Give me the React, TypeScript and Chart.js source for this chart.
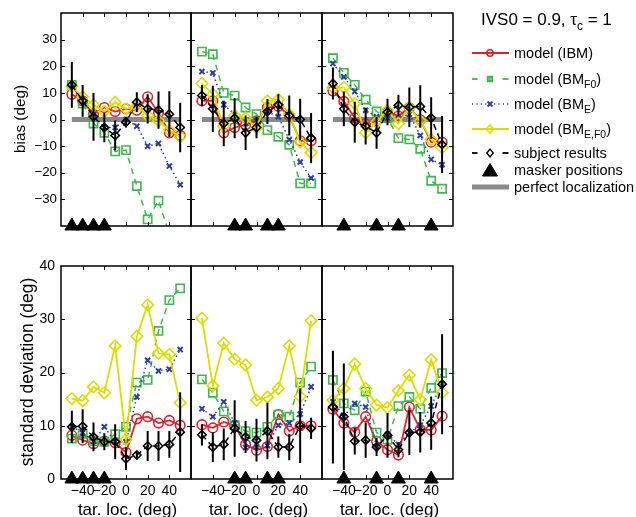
import React, { useEffect, useRef } from 'react';
import { Chart, registerables } from 'chart.js';
Chart.register(...registerables);

// ---------- data ----------
const targetLocs = [-50, -40, -30, -20, -10, 0, 10, 20, 30, 40, 50];
const xTickVals = [-40, -20, 0, 20, 40];
const biasTickVals = [-30, -20, -10, 0, 10, 20, 30];
const sdTickVals = [0, 10, 20, 30, 40];

const maskers1 = [-50, -40, -30, -20];
const maskers2 = [-20, -10, 10, 20];
const maskers3 = [-40, -10, 10, 40];

// bias (top row)
const ibmBias1 = [9.5, 7, 2, 4.5, 3, 4, 3.5, 8.5, 2.5, -5, -6];
const bmF0Bias1 = [13, 6, -1.5, -5, -12, -11.5, -25, -37.5, -30.5, -43, -55];
const bmEBias1 = [13, 7, 2, -3, -3, 0, -2.5, -10, -9, -17.5, -24.5];
const bmEF0Bias1 = [12.5, 8.5, 5.5, 3, 6.5, 4, 5, 1.5, -0.5, -4, -6.5];
const subjBias1 = [13, 7, 1, -3, -6, -1, 6.5, 4, 3.5, 2, -3];
const subjBiasErr1 = [8.6, 6, 9, 5.5, 5.6, 2, 3.7, 5.5, 7, 8.6, 9.3];

const ibmBias2 = [7, 7, -5, -3, -2, -0.5, 4.5, 5, 1.5, -8, -8];
const bmF0Bias2 = [25.5, 24.5, 10, 9, 4.5, 2, -4, -6.5, -9.5, -24, -24];
const bmEBias2 = [18, 17.5, 5.5, 2, -1.5, -0.5, 3, 1, -7.5, -16, -22];
const bmEF0Bias2 = [13.5, 9.5, -2.5, 1.5, 0.5, -3, 7, 7.5, 2, -8.5, -12.5];
const subjBias2 = [9, 4, -1.5, 0.5, -5, -3, 3, 5.5, 1.5, 0, -7];
const subjBiasErr2 = [4, 8.7, 8.5, 7.5, 6.5, 4, 4.7, 4, 7.5, 7.8, 9.4];

const ibmBias3 = [10.7, 6.8, 0.6, -1.6, -0.6, 2.8, 1.3, 4.4, -0.1, -8.5, -8.5];
const bmF0Bias3 = [23, 17.5, 13, 7.5, 3, 0.5, -7, -7.5, -11, -23, -26];
const bmEBias3 = [21, 16, 10.5, 3.5, 1, 0.5, 0.5, 2, -6, -15, -17];
const bmEF0Bias3 = [12, 12, 6, -5, -1, 3.5, -1.5, 4.5, -0.5, -7.5, -10.5];
const subjBias3 = [13.5, 4, -1, -2.5, -5, 2.8, 5.3, 4.6, 4.9, 0.6, -9.4];
const subjBiasErr3 = [6, 6.5, 7.7, 6.9, 6, 5, 4, 7.4, 8, 7.8, 10.7];

// standard deviation (bottom row)
const ibmSd1 = [8.2, 7.3, 6.6, 7.1, 6.8, 5, 11.3, 11.7, 10.5, 11, 10.1];
const bmF0Sd1 = [7.6, 8.5, 7.1, 7, 8.4, 9.8, 18.1, 18.6, 27.8, 33.6, 35.8];
const bmESd1 = [9.8, 8.7, 7.1, 9.8, 7, 7, 15.4, 22.3, 20.3, 20.6, 24.3];
const bmEF0Sd1 = [15.1, 14.7, 17.3, 16.2, 25, 7.4, 26.8, 32.7, 23.6, 23.4, 14.3];
const subjSd1 = [9.8, 9.9, 7.9, 7, 7, 3.8, 4.5, 6.2, 6.2, 6.5, 8.8];
const subjSdErr1 = [3, 3.2, 2.7, 1.6, 3.3, 2.1, 0.6, 2.8, 2.8, 2.5, 7.5];

const ibmSd2 = [10.2, 9.6, 10.7, 10, 6.5, 5.4, 6.1, 12.1, 9, 10, 10];
const bmF0Sd2 = [18.7, 16.2, 12.7, 10.1, 9, 8.7, 9.8, 12.1, 11.7, 18.1, 21.1];
const bmESd2 = [13.2, 11.7, 14.5, 10.5, 5.9, 6, 6.3, 10.1, 10.5, 12.2, 17.3];
const bmEF0Sd2 = [30.2, 17.5, 25.5, 22.5, 21.4, 14.8, 15.4, 17, 25, 15.5, 29.7];
const subjSd2 = [8.3, 6, 6.5, 9.5, 7.9, 7.3, 9, 6, 6, 10, 9.5];
const subjSdErr2 = [2, 2.8, 3, 5.3, 3, 4, 5.3, 2, 2.5, 7, 2];

const ibmSd3 = [13.1, 10.5, 8.8, 11.7, 7.1, 5.5, 4.5, 13.5, 9.3, 9.2, 11.8];
const bmF0Sd3 = [18.6, 14.2, 12.9, 16.4, 8.7, 7.4, 13.7, 15.4, 13.2, 17.1, 19.9];
const bmESd3 = [14.5, 11.8, 14.2, 13.5, 6.1, 8.4, 6.5, 8.7, 10.1, 13.7, 17.9];
const bmEF0Sd3 = [14.8, 17, 21.6, 17, 13.9, 13.4, 16.6, 19.5, 14.9, 22.4, 16.2];
const subjSd3 = [13.5, 11.7, 7.1, 7.3, 6, 8.2, 5.5, 8.7, 8.8, 10.5, 17.8];
const subjSdErr3 = [10.6, 10, 2.5, 3.3, 1.7, 4.2, 1.4, 4.2, 3.8, 5, 9.4];

// ---------- styles ----------
const FONT = "'Liberation Sans', Arial, Helvetica, sans-serif";
const RED = '#e3202a';
const GREEN = '#3db84a';
const BLUE = '#2b3d9e';
const YELLOW = '#dcdc00';
const BLACK = '#000000';
const GREY = '#8a8a8a';
const NONE = 'rgba(0,0,0,0)';

type Panel = {
  left: number; right: number; top: number; bottom: number;
  ymin: number; ymax: number; yLabels: number[]; yInner: number[];
  showX: boolean; showY: boolean; bias: boolean;
  ibm: number[]; f0: number[]; e: number[]; ef0: number[]; subj: number[]; err: number[]; maskers: number[];
};

const colX = [[61, 191], [191, 322], [322, 453]];
const rowTop = { top: 13, bottom: 226 };
const rowBot = { top: 266, bottom: 479 };
const Y_AXIS_W = 40;
const X_AXIS_H = 26;

const panels: Panel[] = [
  { ...rowTop, left: colX[0][0], right: colX[0][1], ymin: -40, ymax: 40, yLabels: biasTickVals, yInner: biasTickVals, showX: false, showY: true, bias: true, ibm: ibmBias1, f0: bmF0Bias1, e: bmEBias1, ef0: bmEF0Bias1, subj: subjBias1, err: subjBiasErr1, maskers: maskers1 },
  { ...rowTop, left: colX[1][0], right: colX[1][1], ymin: -40, ymax: 40, yLabels: biasTickVals, yInner: biasTickVals, showX: false, showY: false, bias: true, ibm: ibmBias2, f0: bmF0Bias2, e: bmEBias2, ef0: bmEF0Bias2, subj: subjBias2, err: subjBiasErr2, maskers: maskers2 },
  { ...rowTop, left: colX[2][0], right: colX[2][1], ymin: -40, ymax: 40, yLabels: biasTickVals, yInner: biasTickVals, showX: false, showY: false, bias: true, ibm: ibmBias3, f0: bmF0Bias3, e: bmEBias3, ef0: bmEF0Bias3, subj: subjBias3, err: subjBiasErr3, maskers: maskers3 },
  { ...rowBot, left: colX[0][0], right: colX[0][1], ymin: 0, ymax: 40, yLabels: sdTickVals, yInner: [10, 20, 30], showX: true, showY: true, bias: false, ibm: ibmSd1, f0: bmF0Sd1, e: bmESd1, ef0: bmEF0Sd1, subj: subjSd1, err: subjSdErr1, maskers: maskers1 },
  { ...rowBot, left: colX[1][0], right: colX[1][1], ymin: 0, ymax: 40, yLabels: sdTickVals, yInner: [10, 20, 30], showX: true, showY: false, bias: false, ibm: ibmSd2, f0: bmF0Sd2, e: bmESd2, ef0: bmEF0Sd2, subj: subjSd2, err: subjSdErr2, maskers: maskers2 },
  { ...rowBot, left: colX[2][0], right: colX[2][1], ymin: 0, ymax: 40, yLabels: sdTickVals, yInner: [10, 20, 30], showX: true, showY: false, bias: false, ibm: ibmSd3, f0: bmF0Sd3, e: bmESd3, ef0: bmEF0Sd3, subj: subjSd3, err: subjSdErr3, maskers: maskers3 },
];

const fmt = (v: number | string) => String(v).replace('-', '\u2212');
const pts = (vals: number[]) => targetLocs.map((x, i) => ({ x, y: vals[i] }));

function framePlugin(p: Panel) {
  return {
    id: 'frame',
    afterDraw(chart: any) {
      const { ctx, chartArea: a, scales } = chart;
      const x = scales.x, y = scales.y;
      ctx.save();
      ctx.strokeStyle = '#000';
      ctx.lineWidth = 1;
      const tl = 4;
      ctx.beginPath();
      for (const v of xTickVals) {
        const px = Math.round(x.getPixelForValue(v)) + 0.5;
        ctx.moveTo(px, a.bottom); ctx.lineTo(px, a.bottom - tl);
        ctx.moveTo(px, a.top); ctx.lineTo(px, a.top + tl);
      }
      for (const v of p.yInner) {
        const py = Math.round(y.getPixelForValue(v)) + 0.5;
        ctx.moveTo(a.left, py); ctx.lineTo(a.left + tl, py);
        ctx.moveTo(a.right, py); ctx.lineTo(a.right - tl, py);
      }
      ctx.stroke();
      ctx.lineWidth = 1.5;
      ctx.strokeRect(a.left, a.top, a.right - a.left, a.bottom - a.top);
      ctx.restore();
    },
  };
}

function errPlugin(p: Panel, dsIndex: number) {
  return {
    id: 'errbars',
    beforeDatasetDraw(chart: any, args: any) {
      if (args.index !== dsIndex) return;
      const { ctx, chartArea: a, scales } = chart;
      ctx.save();
      ctx.beginPath();
      ctx.rect(a.left, a.top, a.right - a.left, a.bottom - a.top);
      ctx.clip();
      ctx.strokeStyle = BLACK;
      ctx.lineWidth = 2;
      ctx.beginPath();
      p.subj.forEach((m, i) => {
        const px = scales.x.getPixelForValue(targetLocs[i]);
        ctx.moveTo(px, scales.y.getPixelForValue(m - p.err[i]));
        ctx.lineTo(px, scales.y.getPixelForValue(m + p.err[i]));
      });
      ctx.stroke();
      ctx.restore();
    },
  };
}

function makeConfig(p: Panel): any {
  const datasets: any[] = [];
  if (p.bias) {
    datasets.push({
      label: 'perfect localization', data: [{ x: -50, y: 0 }, { x: 50, y: 0 }],
      borderColor: GREY, borderWidth: 5, pointRadius: 0, order: 10,
    });
  }
  datasets.push({
    label: 'model (IBM)', data: pts(p.ibm), borderColor: RED, borderWidth: 1.8,
    pointStyle: 'circle', pointRadius: 4.8, pointBorderWidth: 1.6, pointBorderColor: RED, pointBackgroundColor: NONE, order: 6,
  });
  datasets.push({
    label: 'model (BMF0)', data: pts(p.f0), borderColor: GREEN, borderWidth: 1.5, borderDash: [6, 5],
    pointStyle: 'rect', pointRadius: 5.8, pointBorderWidth: 1.6, pointBorderColor: GREEN, pointBackgroundColor: NONE, order: 5,
  });
  datasets.push({
    label: 'model (BME)', data: pts(p.e), borderColor: BLUE, borderWidth: 1.5, borderDash: [1.5, 3],
    pointStyle: 'crossRot', pointRadius: 3.6, pointBorderWidth: 2, pointBorderColor: BLUE, pointBackgroundColor: NONE, order: 4,
  });
  datasets.push({
    label: 'model (BME,F0)', data: pts(p.ef0), borderColor: YELLOW, borderWidth: 1.8,
    pointStyle: 'rectRot', pointRadius: 5.8, pointBorderWidth: 1.6, pointBorderColor: YELLOW, pointBackgroundColor: NONE, order: 3,
  });
  datasets.push({
    label: 'subject results', data: pts(p.subj), borderColor: BLACK, borderWidth: 1.5, borderDash: [6, 4],
    pointStyle: 'rectRot', pointRadius: 4.2, pointBorderWidth: 1.6, pointBorderColor: BLACK, pointBackgroundColor: NONE, order: 2,
  });
  const subjIndex = datasets.length - 1;
  datasets.push({
    label: 'masker positions', data: p.maskers.map((m) => ({ x: m, y: p.ymin })), showLine: false,
    pointStyle: 'triangle', pointRadius: 8, pointBorderWidth: 1, pointBorderColor: BLACK, pointBackgroundColor: BLACK,
    clip: false, order: 0,
  });

  const yW = p.showY ? Y_AXIS_W : 0;
  const xH = p.showX ? X_AXIS_H : 0;

  return {
    type: 'line',
    data: { datasets },
    options: {
      responsive: false,
      animation: false,
      devicePixelRatio: 1,
      events: [],
      layout: { padding: { left: p.left - yW, top: p.top, right: 636 - p.right, bottom: 517 - p.bottom - xH } },
      plugins: { legend: { display: false }, tooltip: { enabled: false }, title: { display: false } },
      elements: { line: { tension: 0, fill: false } },
      scales: {
        x: {
          type: 'linear', min: -60, max: 60,
          grid: { display: false, drawTicks: false, tickLength: 0 }, border: { display: false },
          ticks: {
            display: p.showX, color: '#000', padding: 4, maxRotation: 0, autoSkip: false,
            font: { family: FONT, size: 14 }, callback: (v: number) => fmt(v),
          },
          afterBuildTicks: (s: any) => { s.ticks = xTickVals.map((v) => ({ value: v })); },
          afterFit: (s: any) => { s.height = xH; },
        },
        y: {
          type: 'linear', min: p.ymin, max: p.ymax,
          grid: { display: false, drawTicks: false, tickLength: 0 }, border: { display: false },
          ticks: {
            display: p.showY, color: '#000', padding: p.bias ? 4 : 6, autoSkip: false,
            font: { family: FONT, size: p.bias ? 13.3 : 14 }, callback: (v: number) => fmt(v),
          },
          afterBuildTicks: (s: any) => { s.ticks = p.yLabels.map((v) => ({ value: v })); },
          afterFit: (s: any) => { s.width = yW; },
        },
      },
    },
    plugins: [errPlugin(p, subjIndex), framePlugin(p)],
  };
}

function PanelCanvas({ p }: { p: Panel }) {
  const ref = useRef<HTMLCanvasElement | null>(null);
  useEffect(() => {
    if (!ref.current) return;
    const chart = new Chart(ref.current, makeConfig(p));
    return () => chart.destroy();
  }, [p]);
  return <canvas ref={ref} width={636} height={517} style={{ position: 'absolute', left: 0, top: 0, width: 636, height: 517 }} />;
}

// ---------- legend ----------
const subStyle = { fontSize: '0.72em', verticalAlign: '-0.35em' };
const legendRows = [
  { cy: 53, text: <>model (IBM)</>, kind: 'ibm' },
  { cy: 79, text: <>model (BM<sub style={subStyle}>F0</sub>)</>, kind: 'f0' },
  { cy: 104, text: <>model (BM<sub style={subStyle}>E</sub>)</>, kind: 'e' },
  { cy: 129, text: <>model (BM<sub style={subStyle}>E,F0</sub>)</>, kind: 'ef0' },
  { cy: 153, text: <>subject results</>, kind: 'subj' },
  { cy: 170, text: <>masker positions</>, kind: 'mask' },
  { cy: 187, text: <>perfect localization</>, kind: 'perf' },
];

function LegendSymbol({ kind }: { kind: string }) {
  const w = 40, h = 18, c = 9, mx = 19;
  let content: React.ReactNode = null;
  if (kind === 'ibm') {
    content = <>
      <line x1={1} y1={c} x2={38} y2={c} stroke={RED} strokeWidth={1.8} />
      <circle cx={mx} cy={c} r={3.2} fill="none" stroke={RED} strokeWidth={1.5} />
    </>;
  } else if (kind === 'f0') {
    content = <>
      <line x1={1} y1={c} x2={6.5} y2={c} stroke={GREEN} strokeWidth={1.8} />
      <line x1={31.5} y1={c} x2={37.5} y2={c} stroke={GREEN} strokeWidth={1.8} />
      <rect x={mx - 2.6} y={c - 2.6} width={5.2} height={5.2} fill={GREEN} stroke={GREEN} strokeWidth={1.2} />
      <line x1={mx - 1.6} y1={c} x2={mx + 1.6} y2={c} stroke="#b8e6b8" strokeWidth={1} />
    </>;
  } else if (kind === 'e') {
    content = <>
      <line x1={1} y1={c} x2={38} y2={c} stroke={BLUE} strokeWidth={1.4} strokeDasharray="1.2 3.2" />
      <line x1={mx - 2.5} y1={c - 2.5} x2={mx + 2.5} y2={c + 2.5} stroke={BLUE} strokeWidth={1.8} />
      <line x1={mx - 2.5} y1={c + 2.5} x2={mx + 2.5} y2={c - 2.5} stroke={BLUE} strokeWidth={1.8} />
    </>;
  } else if (kind === 'ef0') {
    content = <>
      <line x1={1} y1={c} x2={38} y2={c} stroke={YELLOW} strokeWidth={1.8} />
      <polygon points={`${mx - 4},${c} ${mx},${c - 4} ${mx + 4},${c} ${mx},${c + 4}`} fill="none" stroke={YELLOW} strokeWidth={1.5} />
    </>;
  } else if (kind === 'subj') {
    content = <>
      <line x1={1} y1={c} x2={6.5} y2={c} stroke={BLACK} strokeWidth={1.8} />
      <line x1={31.5} y1={c} x2={37.5} y2={c} stroke={BLACK} strokeWidth={1.8} />
      <polygon points={`${mx - 3.2},${c} ${mx},${c - 4} ${mx + 3.2},${c} ${mx},${c + 4}`} fill="none" stroke={BLACK} strokeWidth={1.4} />
    </>;
  } else if (kind === 'mask') {
    content = <polygon points={`${mx - 7.5},${c + 6} ${mx},${c - 6.5} ${mx + 7.5},${c + 6}`} fill={BLACK} stroke={BLACK} strokeWidth={1} />;
  } else if (kind === 'perf') {
    content = <line x1={1} y1={c} x2={38} y2={c} stroke={GREY} strokeWidth={5} />;
  }
  return <svg width={w} height={h} style={{ position: 'absolute', left: 0, top: 0 }}>{content}</svg>;
}

export default function App() {
  return (
    <div style={{ position: 'absolute', left: 0, top: 0, width: 636, height: 517, background: '#fff', fontFamily: FONT, color: '#000', overflow: 'hidden' }}>
      {panels.map((p, i) => <PanelCanvas key={i} p={p} />)}

      {/* axis titles */}
      <div style={{ position: 'absolute', left: 20, top: 119, transform: 'translate(-50%, -50%) rotate(-90deg)', whiteSpace: 'nowrap', fontSize: 15.3, lineHeight: 1 }}>bias (deg)</div>
      <div style={{ position: 'absolute', left: 28, top: 372, transform: 'translate(-50%, -50%) rotate(-90deg)', whiteSpace: 'nowrap', fontSize: 17.5, lineHeight: 1 }}>standard deviation (deg)</div>
      {[127.5, 258.5, 389.5].map((cx, i) => (
        <div key={i} style={{ position: 'absolute', left: cx, top: 508.5, transform: 'translate(-50%, -50%)', whiteSpace: 'nowrap', fontSize: 17, lineHeight: 1 }}>tar. loc. (deg)</div>
      ))}

      {/* legend title */}
      <div style={{ position: 'absolute', left: 481, top: 11, whiteSpace: 'nowrap', fontSize: 17, lineHeight: 1 }}>
        IVS0 = 0.9, τ<sub style={{ fontSize: '0.7em', verticalAlign: '-0.4em' }}>c</sub> = 1
      </div>

      {/* legend rows */}
      {legendRows.map((r, i) => (
        <div key={i}>
          <div style={{ position: 'absolute', left: 471, top: r.cy - 9, width: 40, height: 18 }}>
            <LegendSymbol kind={r.kind} />
          </div>
          <div style={{ position: 'absolute', left: 514, top: r.cy - 8, whiteSpace: 'nowrap', fontSize: 14.5, lineHeight: '16px' }}>{r.text}</div>
        </div>
      ))}
    </div>
  );
}
